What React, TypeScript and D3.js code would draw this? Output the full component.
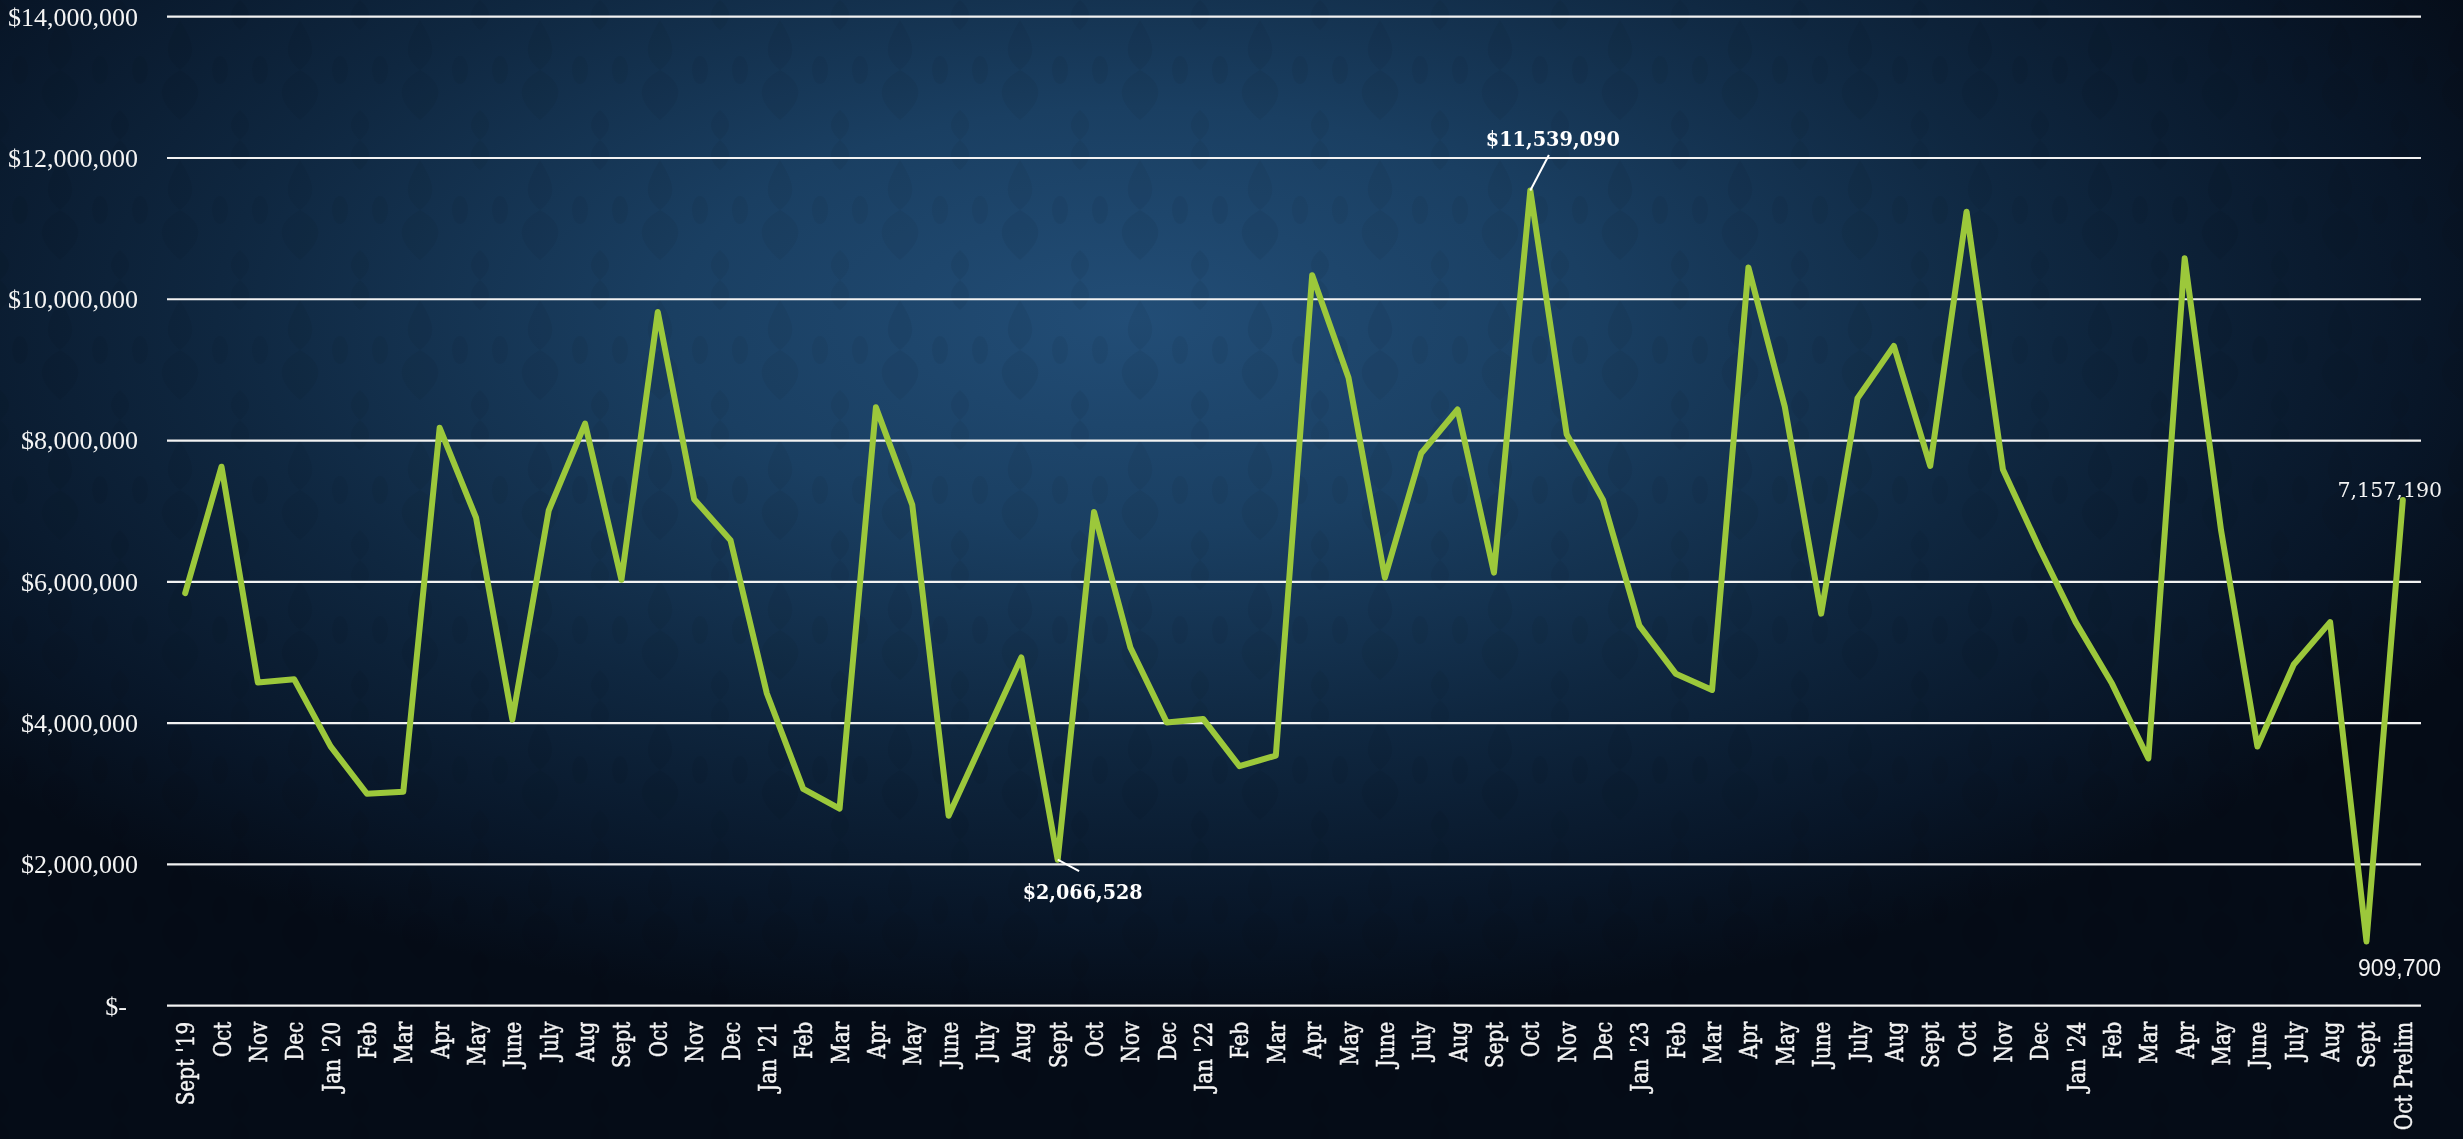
import React from "react";
import * as d3 from "d3";

const categories: string[] = [
  "Sept '19", "Oct", "Nov", "Dec",
  "Jan '20", "Feb", "Mar", "Apr", "May", "June", "July", "Aug", "Sept", "Oct", "Nov", "Dec",
  "Jan '21", "Feb", "Mar", "Apr", "May", "June", "July", "Aug", "Sept", "Oct", "Nov", "Dec",
  "Jan '22", "Feb", "Mar", "Apr", "May", "June", "July", "Aug", "Sept", "Oct", "Nov", "Dec",
  "Jan '23", "Feb", "Mar", "Apr", "May", "June", "July", "Aug", "Sept", "Oct", "Nov", "Dec",
  "Jan '24", "Feb", "Mar", "Apr", "May", "June", "July", "Aug", "Sept", "Oct Prelim",
];

const revenue: number[] = [
  5840000, 7630000, 4575000, 4620000,
  3670000, 3000000, 3030000, 8180000, 6910000, 4050000, 7010000, 8240000, 6030000, 9820000, 7170000, 6590000,
  4420000, 3070000, 2790000, 8470000, 7090000, 2690000, 3810000, 4930000, 2066528, 6990000, 5070000, 4010000,
  4060000, 3390000, 3540000, 10340000, 8890000, 6060000, 7820000, 8440000, 6130000, 11539090, 8090000, 7160000,
  5380000, 4700000, 4470000, 10450000, 8480000, 5550000, 8600000, 9340000, 7640000, 11240000, 7590000, 6480000,
  5430000, 4560000, 3500000, 10580000, 6730000, 3670000, 4830000, 5430000, 909700, 7157190,
];

const yTicks: number[] = [0, 2000000, 4000000, 6000000, 8000000, 10000000, 12000000, 14000000];

// annotated points: index into the series and the label shown
const maxIndex = 37;
const minIndex = 24;
const lastDipIndex = 60;
const lastIndex = 61;
const maxLabel = "$11,539,090";
const minLabel = "$2,066,528";
const lastDipLabel = "909,700";
const lastLabel = "7,157,190";

const W = 2463;
const H = 1139;

export default function App() {
  const x = d3.scaleBand<number>().domain(d3.range(categories.length)).range([167, 2421]);
  const cx = (i: number) => (x(i) as number) + x.bandwidth() / 2;
  const y = d3.scaleLinear().domain([0, 14000000]).range([1005.7, 16.7]);

  const line = d3
    .line<number>()
    .x((_, i) => cx(i))
    .y((d) => y(d))(revenue) as string;

  const fmt = d3.format(",");
  const yLabel = (v: number) => (v === 0 ? "$-" : "$" + fmt(v));

  const pMax = [cx(maxIndex), y(revenue[maxIndex])];
  const pMin = [cx(minIndex), y(revenue[minIndex])];
  const pDip = [cx(lastDipIndex), y(revenue[lastDipIndex])];
  const pLast = [cx(lastIndex), y(revenue[lastIndex])];

  return (
    <svg
      width={W}
      height={H}
      viewBox={`0 0 ${W} ${H}`}
      style={{ position: "fixed", left: 0, top: 0, display: "block" }}
    >
      <defs>
        <radialGradient id="bg" cx="46%" cy="28%" r="62%" gradientUnits="objectBoundingBox">
          <stop offset="0" stopColor="#224d76" />
          <stop offset="0.3" stopColor="#1a3f62" />
          <stop offset="0.6" stopColor="#0f2740" />
          <stop offset="0.85" stopColor="#081628" />
          <stop offset="1" stopColor="#050c17" />
        </radialGradient>
        <pattern id="damask" width="120" height="140" patternUnits="userSpaceOnUse">
          <g fill="#000" fillOpacity="0.05">
            <path d="M60 20 C72 40 80 55 60 70 C40 55 48 40 60 20 Z" />
            <path d="M60 70 C78 80 90 95 60 120 C30 95 42 80 60 70 Z" />
            <ellipse cx="20" cy="70" rx="8" ry="14" />
            <ellipse cx="100" cy="70" rx="8" ry="14" />
            <path d="M0 0 C12 10 12 20 0 30 C-12 20 -12 10 0 0 Z" />
            <path d="M120 0 C132 10 132 20 120 30 C108 20 108 10 120 0 Z" />
            <path d="M0 110 C12 120 12 130 0 140 C-12 130 -12 120 0 110 Z" />
            <path d="M120 110 C132 120 132 130 120 140 C108 130 108 120 120 110 Z" />
          </g>
        </pattern>
      </defs>
      <rect x={0} y={0} width={W} height={H} fill="url(#bg)" />
      <rect x={0} y={0} width={W} height={H} fill="url(#damask)" />

      {/* gridlines */}
      {yTicks.map((t) => (
        <line
          key={"g" + t}
          x1={167}
          x2={2421}
          y1={y(t)}
          y2={y(t)}
          stroke="#f2f2f2"
          strokeWidth={2.2}
        />
      ))}

      {/* y tick labels */}
      {yTicks.map((t) => (
        <text
          key={"yl" + t}
          x={t === 0 ? 127 : 138}
          y={y(t)}
          dy="0.34em"
          textAnchor="end"
          fill="#f4f4f4"
          fontFamily="'Liberation Serif', serif"
          fontSize={26}
        >
          {yLabel(t)}
        </text>
      ))}

      {/* x tick labels */}
      {categories.map((c, i) => (
        <text
          key={"xl" + i}
          transform={`translate(${cx(i)},1021.7) rotate(-90) scale(0.8,1)`}
          dy="0.36em"
          textAnchor="end"
          fill="#f4f4f4"
          stroke="#f4f4f4"
          strokeWidth={0.5}
          fontFamily="'DejaVu Serif', serif"
          fontSize={25}
        >
          {c}
        </text>
      ))}

      {/* series line */}
      <path
        d={line}
        fill="none"
        stroke="#9cc83b"
        strokeWidth={6}
        strokeLinejoin="round"
        strokeLinecap="round"
      />

      {/* annotations */}
      <line
        x1={pMax[0]}
        y1={pMax[1]}
        x2={pMax[0] + 18.6}
        y2={pMax[1] - 35.5}
        stroke="#ffffff"
        strokeWidth={2}
      />
      <text
        x={pMax[0] + 22.5}
        y={pMax[1] - 44.5}
        textAnchor="middle"
        fill="#ffffff"
        fontFamily="'DejaVu Serif', serif"
        fontWeight="bold"
        fontSize={21}
        textLength={134}
        lengthAdjust="spacingAndGlyphs"
      >
        {maxLabel}
      </text>

      <line
        x1={pMin[0]}
        y1={pMin[1]}
        x2={pMin[0] + 21.4}
        y2={pMin[1] + 11.3}
        stroke="#ffffff"
        strokeWidth={2}
      />
      <text
        x={pMin[0] + 25}
        y={pMin[1] + 39}
        textAnchor="middle"
        fill="#ffffff"
        fontFamily="'DejaVu Serif', serif"
        fontWeight="bold"
        fontSize={21}
        textLength={120}
        lengthAdjust="spacingAndGlyphs"
      >
        {minLabel}
      </text>

      <text
        x={pLast[0] - 13}
        y={pLast[1] - 3}
        textAnchor="middle"
        fill="#f4f4f4"
        fontFamily="'DejaVu Serif', serif"
        fontSize={20.6}
      >
        {lastLabel}
      </text>

      <text
        x={pDip[0] + 33}
        y={pDip[1] + 35}
        textAnchor="middle"
        fill="#f4f4f4"
        fontFamily="'Liberation Sans', sans-serif"
        fontSize={23}
      >
        {lastDipLabel}
      </text>
    </svg>
  );
}
